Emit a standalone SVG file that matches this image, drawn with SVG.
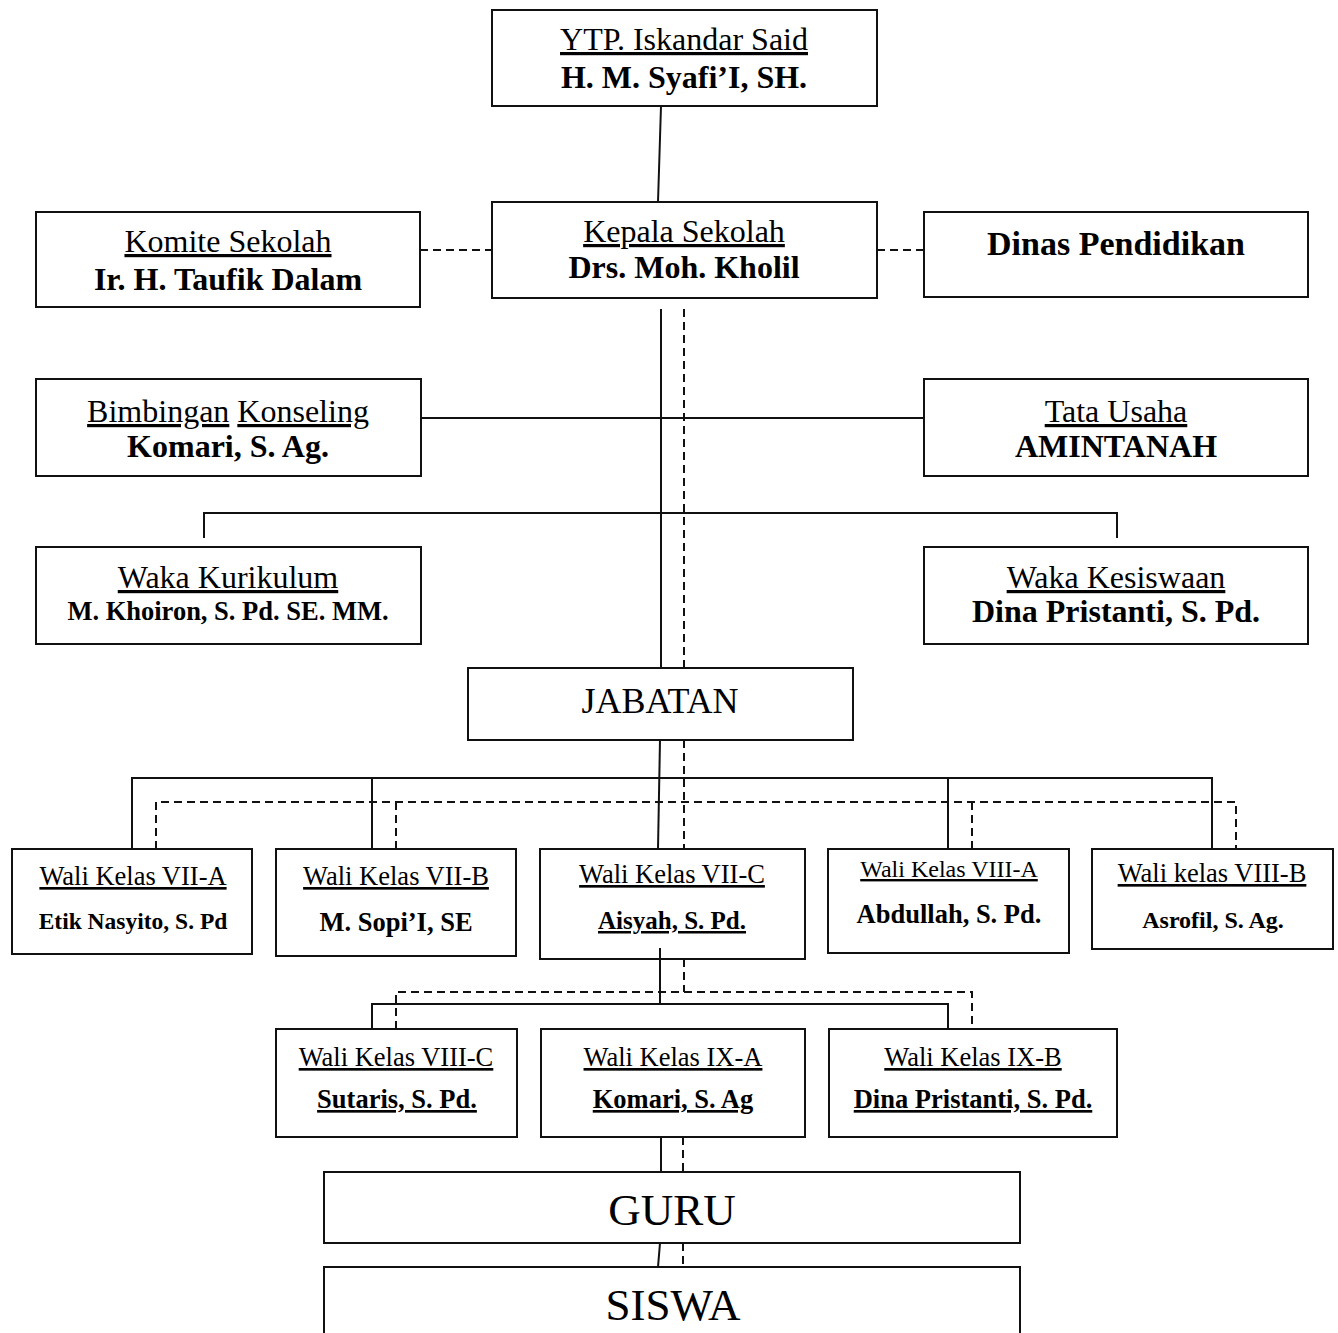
<svg xmlns="http://www.w3.org/2000/svg" width="1338" height="1333" viewBox="0 0 1338 1333">
<style>
.box{fill:#fff;stroke:#111;stroke-width:2}
.ln{fill:none;stroke:#111;stroke-width:2}
.ds{fill:none;stroke:#111;stroke-width:2;stroke-dasharray:8 5}
text{font-family:"Liberation Serif","Times New Roman",serif;fill:#000;text-anchor:middle}
.t{font-size:32px}
.b{font-size:32px;font-weight:bold}
.u{text-decoration:underline}
.s{font-size:26.5px}
.sb{font-size:26.5px;font-weight:bold}
</style>
<rect width="1338" height="1333" fill="#fff"/>
<g id="ytp">
<rect class="box" x="492" y="10" width="385" height="96"/>
<text class="t u" x="684" y="50">YTP. Iskandar Said</text>
<text class="b" x="684" y="88">H. M. Syafi’I, SH.</text>
</g>
<g id="kepala">
<rect class="box" x="492" y="202" width="385" height="96"/>
<text class="t u" x="684" y="242">Kepala Sekolah</text>
<text class="b" x="684" y="278">Drs. Moh. Kholil</text>
</g>
<g id="komite">
<rect class="box" x="36" y="212" width="384" height="95"/>
<text class="t u" x="228" y="252">Komite Sekolah</text>
<text class="b" x="228" y="290">Ir. H. Taufik Dalam</text>
</g>
<g id="dinas">
<rect class="box" x="924" y="212" width="384" height="85"/>
<text class="b" x="1116" y="255" style="font-size:34px">Dinas Pendidikan</text>
</g>
<g id="bk">
<rect class="box" x="36" y="379" width="385" height="97"/>
<text class="t" x="228" y="422"><tspan class="u">Bimbingan</tspan> <tspan class="u">Konseling</tspan></text>
<text class="b" x="228" y="457">Komari, S. Ag.</text>
</g>
<g id="tu">
<rect class="box" x="924" y="379" width="384" height="97"/>
<text class="t u" x="1116" y="422">Tata Usaha</text>
<text class="b" x="1116" y="457">AMINTANAH</text>
</g>
<g id="kurikulum">
<rect class="box" x="36" y="547" width="385" height="97"/>
<text class="t u" x="228" y="588">Waka Kurikulum</text>
<text class="sb" x="228" y="620">M. Khoiron, S. Pd. SE. MM.</text>
</g>
<g id="kesiswaan">
<rect class="box" x="924" y="547" width="384" height="97"/>
<text class="t u" x="1116" y="588">Waka Kesiswaan</text>
<text class="b" x="1116" y="622">Dina Pristanti, S. Pd.</text>
</g>
<g id="jabatan">
<rect class="box" x="468" y="668" width="385" height="72"/>
<text x="660" y="713" style="font-size:36px">JABATAN</text>
</g>
<g id="vii-a">
<rect class="box" x="12" y="849" width="240" height="105"/>
<text class="s u" x="133" y="885">Wali Kelas VII-A</text>
<text class="sb" x="133" y="929" style="font-size:23.5px">Etik Nasyito, S. Pd</text>
</g>
<g id="vii-b">
<rect class="box" x="276" y="849" width="240" height="107"/>
<text class="s u" x="396" y="885">Wali Kelas VII-B</text>
<text class="sb" x="396" y="931">M. Sopi’I, SE</text>
</g>
<g id="vii-c">
<rect class="box" x="540" y="849" width="265" height="110"/>
<text class="s u" x="672" y="883">Wali Kelas VII-C</text>
<text class="sb u" x="672" y="929" style="font-size:25px">Aisyah, S. Pd.</text>
</g>
<g id="viii-a">
<rect class="box" x="828" y="849" width="241" height="104"/>
<text class="s u" x="949" y="877" style="font-size:24px">Wali Kelas VIII-A</text>
<text class="sb" x="949" y="923">Abdullah, S. Pd.</text>
</g>
<g id="viii-b">
<rect class="box" x="1092" y="849" width="241" height="100"/>
<text class="s u" x="1212" y="882">Wali kelas VIII-B</text>
<text class="sb" x="1213" y="928" style="font-size:24px">Asrofil, S. Ag.</text>
</g>
<g id="viii-c">
<rect class="box" x="276" y="1029" width="241" height="108"/>
<text class="s u" x="396" y="1066">Wali Kelas VIII-C</text>
<text class="sb u" x="397" y="1108">Sutaris, S. Pd.</text>
</g>
<g id="ix-a">
<rect class="box" x="541" y="1029" width="264" height="108"/>
<text class="s u" x="673" y="1066">Wali Kelas IX-A</text>
<text class="sb u" x="673" y="1108">Komari, S. Ag</text>
</g>
<g id="ix-b">
<rect class="box" x="829" y="1029" width="288" height="108"/>
<text class="s u" x="973" y="1066">Wali Kelas IX-B</text>
<text class="sb u" x="973" y="1108">Dina Pristanti, S. Pd.</text>
</g>
<g id="guru">
<rect class="box" x="324" y="1172" width="696" height="71"/>
<text x="672" y="1225" style="font-size:45px">GURU</text>
</g>
<g id="siswa">
<rect class="box" x="324" y="1267" width="696" height="80"/>
<text x="673" y="1320" style="font-size:45px">SISWA</text>
</g>
<g id="connectors">
<line class="ln" x1="661" y1="106" x2="658" y2="202"/>
<line class="ds" x1="420" y1="250" x2="492" y2="250"/>
<line class="ds" x1="877" y1="250" x2="924" y2="250"/>
<line class="ln" x1="661" y1="309" x2="661" y2="668"/>
<line class="ds" x1="684" y1="309" x2="684" y2="668"/>
<line class="ln" x1="421" y1="418" x2="924" y2="418"/>
<polyline class="ln" points="204,538 204,513 1117,513 1117,538"/>
<line class="ln" x1="660" y1="740" x2="658" y2="849"/>
<line class="ds" x1="684" y1="740" x2="684" y2="849"/>
<polyline class="ln" points="132,849 132,778 1212,778 1212,849"/>
<line class="ln" x1="372" y1="778" x2="372" y2="849"/>
<line class="ln" x1="948" y1="778" x2="948" y2="849"/>
<polyline class="ds" points="156,849 156,802 1236,802 1236,849"/>
<line class="ds" x1="396" y1="802" x2="396" y2="849"/>
<line class="ds" x1="972" y1="802" x2="972" y2="849"/>
<line class="ln" x1="660" y1="948" x2="660" y2="1005"/>
<line class="ds" x1="684" y1="959" x2="684" y2="992"/>
<polyline class="ln" points="372,1029 372,1004 948,1004 948,1029"/>
<polyline class="ds" points="396,1029 396,992 972,992 972,1029"/>
<line class="ln" x1="661" y1="1137" x2="661" y2="1172"/>
<line class="ds" x1="683" y1="1137" x2="683" y2="1172"/>
<line class="ln" x1="660" y1="1243" x2="658" y2="1267"/>
<line class="ds" x1="683" y1="1243" x2="683" y2="1267"/>
</g>
</svg>
